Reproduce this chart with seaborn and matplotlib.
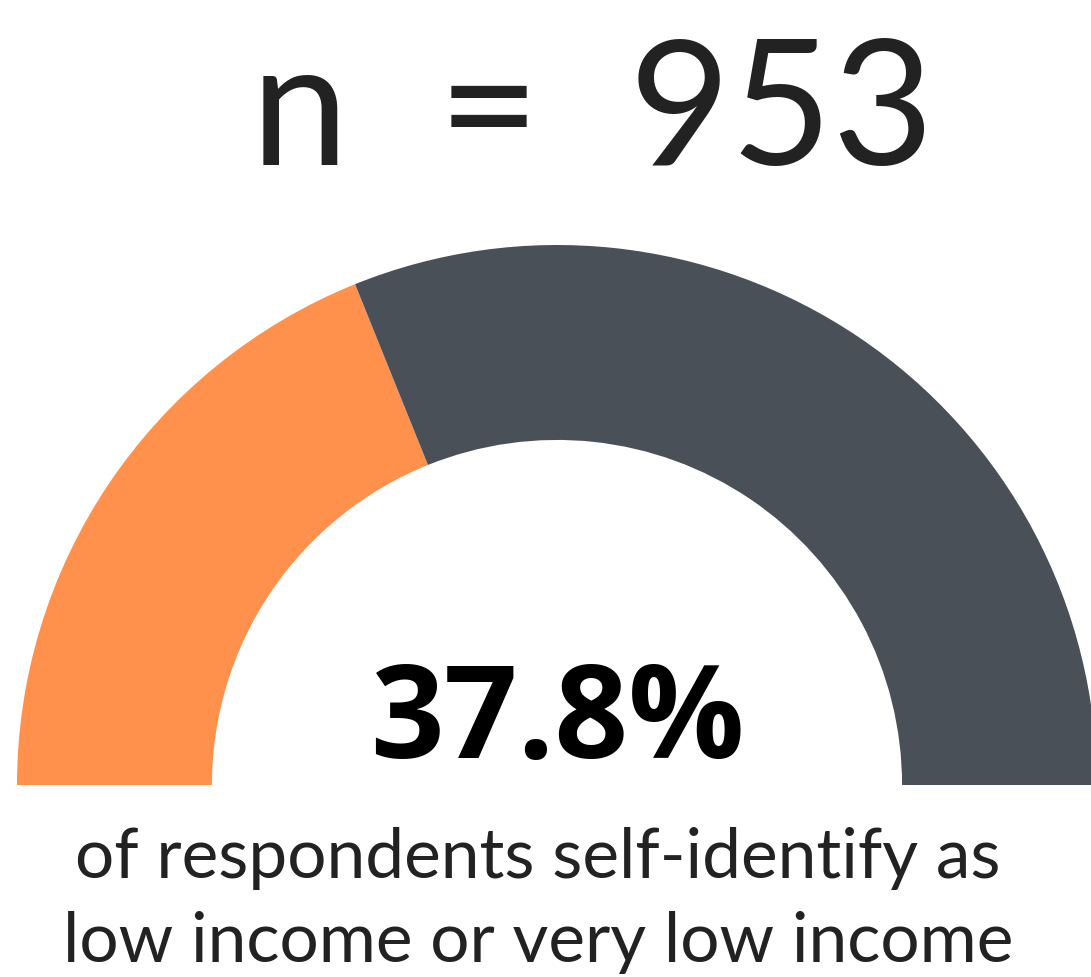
import matplotlib
matplotlib.use("Agg")
import matplotlib.pyplot as plt
import seaborn as sns

# Data
labels = ["Low / very low income", "Other respondents"]
shares = [37.8, 62.2]
n_total = 953
caption = ["of respondents self-identify as", "low income or very low income"]

colors = ["#FF914D", "#4A5058"]

sns.set_theme(style="white")
plt.rcParams["font.family"] = ["Lato", "DejaVu Sans"]

W, H = 1091, 977
fig = plt.figure(figsize=(W / 100, H / 100), dpi=100)
fig.patch.set_facecolor("white")

# gauge axes: centre at (557, 785) px, outer radius 540 px
cx, cy, r = 557, 785, 540
ax = fig.add_axes([(cx - r) / W, (H - cy - r) / H, 2 * r / W, 2 * r / H])

# half donut: the hidden lower half is the same size as the visible upper half
vals = shares + [sum(shares)]
wedges, _ = ax.pie(
    vals,
    colors=colors + ["none"],
    startangle=180,
    counterclock=False,
    radius=1,
    wedgeprops=dict(width=0.361, linewidth=0),
)
ax.set_xlim(-1, 1)
ax.set_ylim(-1, 1)
ax.axis("off")


def fy(px):
    return 1 - px / H


fig.text(592 / W, fy(165), f"n  =  {n_total}", ha="center", va="baseline",
         fontsize=126, color="#222222")

fig.text(557 / W, fy(758), f"{shares[0]}%", ha="center", va="baseline",
         fontsize=93, color="black", fontweight="bold",
         family=["Open Sans", "DejaVu Sans"])

fig.text(538 / W, fy(878), caption[0], ha="center", va="baseline",
         fontsize=50, color="#222222")
fig.text(538 / W, fy(962), caption[1], ha="center", va="baseline",
         fontsize=50, color="#222222")

fig.savefig("out.png", dpi=100, facecolor="white")
